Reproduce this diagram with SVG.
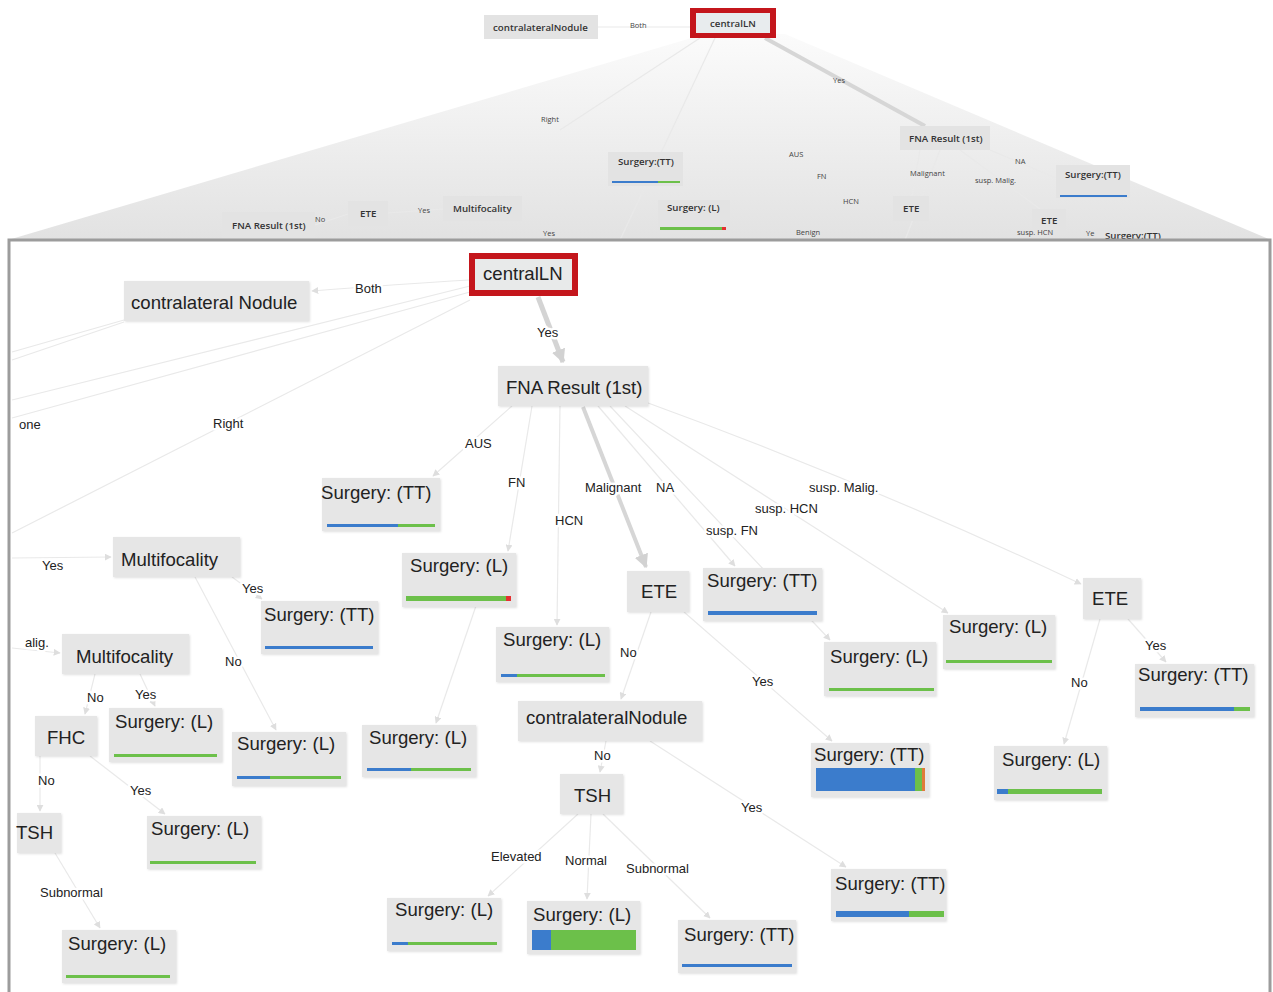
<svg xmlns="http://www.w3.org/2000/svg" width="1273" height="992" viewBox="0 0 1273 992">
<defs>
<linearGradient id="shade" x1="0" y1="0" x2="0" y2="1">
<stop offset="0" stop-color="#fbfbfb"/>
<stop offset="1" stop-color="#e2e2e2"/>
</linearGradient>
<marker id="arr" viewBox="0 0 10 10" refX="9" refY="5" markerWidth="7" markerHeight="7" orient="auto-start-reverse" markerUnits="userSpaceOnUse">
<path d="M0,0 L10,5 L0,10 z" fill="#dedede"/>
</marker>
<marker id="arrB" viewBox="0 0 10 10" refX="9" refY="5" markerWidth="14" markerHeight="14" orient="auto" markerUnits="userSpaceOnUse">
<path d="M0,0 L10,5 L0,10 z" fill="#d2d2d2"/>
</marker>
<filter id="sh" x="-5%" y="-5%" width="115%" height="120%">
<feDropShadow dx="1" dy="1" stdDeviation="1" flood-color="#000" flood-opacity="0.12"/>
</filter>
</defs>
<style>
.n rect.b{fill:#e6e6e6;filter:url(#sh)}
.n text{font-family:"Liberation Sans",Arial,sans-serif;font-size:18.6px;fill:#222}
.t rect.b{fill:#e3e3e3}
.t text{font-family:"Open Sans","DejaVu Sans",sans-serif;font-size:9.7px;font-weight:600;fill:#333}
.lbl{font-family:"Liberation Sans",Arial,sans-serif;font-size:13px;fill:#222;paint-order:stroke;stroke:#fff;stroke-width:5px;stroke-linejoin:round}
.tl{font-family:"Open Sans","DejaVu Sans",sans-serif;font-size:7.5px;fill:#444}
.e line,.e path{stroke:#e9e9e9;stroke-width:1.2;fill:none}
.e .thick{stroke:#d4d4d4;stroke-width:5}
.e .mid{stroke:#d6d6d6;stroke-width:4}
.blue{fill:#3b7ccc}.green{fill:#6cc04a}.red{fill:#e53030}.orange{fill:#e07b39}
</style>

<!-- ===== Overview thumbnail ===== -->
<g id="overview">
<polygon points="705,34 785,34 1271,240 8,240" fill="url(#shade)"/>
<g class="e">
<line x1="598" y1="27" x2="690" y2="27" stroke="#ddd"/>
<line class="mid" x1="765" y1="38" x2="925" y2="126" stroke="#d0d0d0"/>
<line x1="715" y1="38" x2="620" y2="240"/>
<line x1="700" y1="38" x2="560" y2="130"/>
<line x1="940" y1="150" x2="905" y2="240"/>
<line x1="920" y1="150" x2="912" y2="196" stroke="#ccc" stroke-width="2"/>
<line x1="960" y1="150" x2="1040" y2="209"/>
<line x1="990" y1="150" x2="1056" y2="178"/>
<line x1="315" y1="225" x2="348" y2="214"/>
<line x1="388" y1="213" x2="443" y2="209"/>
</g>
<g class="t" id="ov-contra"><rect class="b" x="484" y="15" width="114" height="24"/><text x="493" y="31">contralateralNodule</text></g>
<text class="tl" x="630" y="28">Both</text>
<g class="t" id="ov-central"><rect x="690" y="8" width="86" height="30" fill="#c4161c"/><rect x="696" y="13" width="74" height="20" fill="#e8ecee"/><text x="710" y="27">centralLN</text></g>
<text class="tl" x="833" y="83">Yes</text>
<text class="tl" x="541" y="122">Right</text>
<g class="t" id="ov-stt1"><rect class="b" x="608" y="152" width="75" height="34"/><text x="618" y="165">Surgery:(TT)</text><rect x="612" y="181" width="46" height="2" class="blue"/><rect x="658" y="181" width="22" height="2" class="green"/></g>
<g class="t" id="ov-sl1"><rect class="b" x="658" y="200" width="72" height="33"/><text x="667" y="211">Surgery: (L)</text><rect x="660" y="227" width="62" height="3" class="green"/><rect x="722" y="227" width="4" height="3" class="red"/></g>
<text class="tl" x="789" y="157">AUS</text>
<text class="tl" x="817" y="179">FN</text>
<text class="tl" x="843" y="204">HCN</text>
<text class="tl" x="796" y="235">Benign</text>
<g class="t" id="ov-fna"><rect class="b" x="900" y="126" width="90" height="24"/><text x="909" y="142">FNA Result (1st)</text></g>
<text class="tl" x="910" y="176">Malignant</text>
<text class="tl" x="1015" y="164">NA</text>
<text class="tl" x="975" y="183">susp. Malig.</text>
<g class="t" id="ov-stt2"><rect class="b" x="1056" y="165" width="74" height="33"/><text x="1065" y="178">Surgery:(TT)</text><rect x="1060" y="195" width="67" height="2" class="blue"/></g>
<g class="t" id="ov-ete1"><rect class="b" x="893" y="196" width="36" height="25"/><text x="903" y="212">ETE</text></g>
<g class="t" id="ov-ete2"><rect class="b" x="1032" y="209" width="34" height="26"/><text x="1041" y="224">ETE</text></g>
<text class="tl" x="1017" y="235">susp. HCN</text>
<text class="tl" x="1086" y="236">Ye</text>
<g class="t" id="ov-stt3"><rect class="b" x="1097" y="228" width="73" height="12"/><text x="1105" y="239">Surgery:(TT)</text></g>
<g class="t" id="ov-fna2"><rect class="b" x="222" y="212" width="93" height="28"/><text x="232" y="229">FNA Result (1st)</text></g>
<text class="tl" x="315" y="222">No</text>
<g class="t" id="ov-ete3"><rect class="b" x="348" y="201" width="40" height="25"/><text x="360" y="217">ETE</text></g>
<text class="tl" x="418" y="213">Yes</text>
<g class="t" id="ov-multi"><rect class="b" x="443" y="196" width="79" height="25"/><text x="453" y="212">Multifocality</text></g>
<text class="tl" x="543" y="236">Yes</text>
</g>

<!-- ===== Main panel ===== -->
<rect x="9" y="240" width="1261" height="760" fill="#fff" stroke="#9c9c9c" stroke-width="3"/>

<g id="connectors" class="e">
<path d="M469,280 Q400,284 312,291" marker-end="url(#arr)"/>
<line x1="470" y1="286" x2="12" y2="400"/>
<line x1="470" y1="292" x2="12" y2="418"/>
<line x1="470" y1="300" x2="12" y2="533"/>
<line x1="124" y1="320" x2="12" y2="352"/>
<line x1="124" y1="322" x2="12" y2="360"/>
<line class="thick" x1="538" y1="297" x2="563" y2="362" marker-end="url(#arrB)"/>
<line x1="512" y1="406" x2="433" y2="476" marker-end="url(#arr)"/>
<line x1="532" y1="406" x2="508" y2="551" marker-end="url(#arr)"/>
<line x1="560" y1="406" x2="557" y2="625" marker-end="url(#arr)"/>
<line class="mid" x1="583" y1="407" x2="646" y2="567" marker-end="url(#arrB)"/>
<line x1="598" y1="406" x2="735" y2="566" marker-end="url(#arr)"/>
<line x1="610" y1="406" x2="830" y2="640" marker-end="url(#arr)"/>
<line x1="625" y1="406" x2="948" y2="613" marker-end="url(#arr)"/>
<path d="M640,400 Q860,480 1081,584" marker-end="url(#arr)"/>
<line x1="478" y1="600" x2="436" y2="723" marker-end="url(#arr)"/>
<line x1="651" y1="612" x2="621" y2="699" marker-end="url(#arr)"/>
<line x1="684" y1="612" x2="832" y2="741" marker-end="url(#arr)"/>
<line x1="606" y1="741" x2="600" y2="772" marker-end="url(#arr)"/>
<line x1="650" y1="741" x2="846" y2="867" marker-end="url(#arr)"/>
<line x1="578" y1="814" x2="488" y2="896" marker-end="url(#arr)"/>
<line x1="591" y1="814" x2="587" y2="899" marker-end="url(#arr)"/>
<line x1="603" y1="814" x2="710" y2="918" marker-end="url(#arr)"/>
<line x1="1128" y1="619" x2="1166" y2="662" marker-end="url(#arr)"/>
<line x1="1100" y1="619" x2="1064" y2="744" marker-end="url(#arr)"/>
<line x1="12" y1="558" x2="111" y2="557" marker-end="url(#arr)"/>
<line x1="232" y1="577" x2="262" y2="599" marker-end="url(#arr)"/>
<line x1="195" y1="577" x2="276" y2="730" marker-end="url(#arr)"/>
<line x1="12" y1="648" x2="60" y2="653" marker-end="url(#arr)"/>
<line x1="95" y1="674" x2="85" y2="714" marker-end="url(#arr)"/>
<line x1="140" y1="674" x2="155" y2="706" marker-end="url(#arr)"/>
<line x1="40" y1="756" x2="40" y2="811" marker-end="url(#arr)"/>
<line x1="90" y1="756" x2="165" y2="814" marker-end="url(#arr)"/>
<line x1="55" y1="853" x2="100" y2="928" marker-end="url(#arr)"/>
</g>

<g id="centralLN" class="n"><rect x="469" y="253" width="109" height="43" fill="#c4161c"/><rect x="475" y="259" width="97" height="31" fill="#e8eaea"/><text x="483" y="280">centralLN</text></g>
<g id="contralateral-nodule" class="n"><rect class="b" x="124" y="281" width="185" height="40"/><text x="131" y="309">contralateral Nodule</text></g>
<g id="fna" class="n"><rect class="b" x="498" y="366" width="150" height="40"/><text x="506" y="394">FNA Result (1st)</text></g>
<g id="s-tt-1" class="n"><rect class="b" x="322" y="478" width="118" height="53"/><text x="321" y="499">Surgery: (TT)</text><rect x="327" y="524" width="71" height="3" class="blue"/><rect x="398" y="524" width="37" height="3" class="green"/></g>
<g id="s-l-1" class="n"><rect class="b" x="402" y="553" width="114" height="54"/><text x="410" y="572">Surgery: (L)</text><rect x="406" y="596" width="100" height="5" class="green"/><rect x="506" y="596" width="5" height="5" class="red"/></g>
<g id="multi-1" class="n"><rect class="b" x="113" y="537" width="127" height="40"/><text x="121" y="566">Multifocality</text></g>
<g id="s-tt-2" class="n"><rect class="b" x="261" y="601" width="117" height="53"/><text x="264" y="621">Surgery: (TT)</text><rect x="265" y="646" width="108" height="3" class="blue"/></g>
<g id="multi-2" class="n"><rect class="b" x="62" y="634" width="127" height="40"/><text x="76" y="663">Multifocality</text></g>
<g id="ete-1" class="n"><rect class="b" x="627" y="571" width="62" height="41"/><text x="641" y="598">ETE</text></g>
<g id="s-tt-3" class="n"><rect class="b" x="703" y="568" width="119" height="53"/><text x="707" y="587">Surgery: (TT)</text><rect x="708" y="611" width="109" height="4" class="blue"/></g>
<g id="s-l-2" class="n"><rect class="b" x="496" y="627" width="113" height="55"/><text x="503" y="646">Surgery: (L)</text><rect x="501" y="674" width="16" height="3" class="blue"/><rect x="517" y="674" width="88" height="3" class="green"/></g>
<g id="fhc" class="n"><rect class="b" x="35" y="716" width="62" height="40"/><text x="47" y="744">FHC</text></g>
<g id="s-l-3" class="n"><rect class="b" x="109" y="708" width="113" height="54"/><text x="115" y="728">Surgery: (L)</text><rect x="114" y="754" width="103" height="3" class="green"/></g>
<g id="s-l-4" class="n"><rect class="b" x="232" y="732" width="114" height="54"/><text x="237" y="750">Surgery: (L)</text><rect x="237" y="776" width="33" height="3" class="blue"/><rect x="270" y="776" width="71" height="3" class="green"/></g>
<g id="s-l-5" class="n"><rect class="b" x="362" y="725" width="114" height="52"/><text x="369" y="744">Surgery: (L)</text><rect x="367" y="768" width="44" height="3" class="blue"/><rect x="411" y="768" width="60" height="3" class="green"/></g>
<g id="contralateralNodule" class="n"><rect class="b" x="518" y="701" width="184" height="40"/><text x="526" y="724">contralateralNodule</text></g>
<g id="s-tt-4" class="n"><rect class="b" x="811" y="743" width="118" height="54"/><text x="814" y="761">Surgery: (TT)</text><rect x="816" y="768" width="99" height="23" class="blue"/><rect x="915" y="768" width="7" height="23" class="green"/><rect x="922" y="768" width="3" height="23" class="orange"/></g>
<g id="s-l-6" class="n"><rect class="b" x="824" y="642" width="112" height="54"/><text x="830" y="663">Surgery: (L)</text><rect x="829" y="688" width="105" height="3" class="green"/></g>
<g id="s-l-7" class="n"><rect class="b" x="943" y="615" width="112" height="54"/><text x="949" y="633">Surgery: (L)</text><rect x="946" y="660" width="106" height="3" class="green"/></g>
<g id="ete-2" class="n"><rect class="b" x="1083" y="578" width="58" height="41"/><text x="1092" y="605">ETE</text></g>
<g id="s-tt-5" class="n"><rect class="b" x="1135" y="664" width="119" height="53"/><text x="1138" y="681">Surgery: (TT)</text><rect x="1140" y="707" width="94" height="4" class="blue"/><rect x="1234" y="707" width="16" height="4" class="green"/></g>
<g id="s-l-8" class="n"><rect class="b" x="994" y="746" width="113" height="54"/><text x="1002" y="766">Surgery: (L)</text><rect x="997" y="789" width="11" height="5" class="blue"/><rect x="1008" y="789" width="94" height="5" class="green"/></g>
<g id="tsh-1" class="n"><rect class="b" x="560" y="774" width="63" height="40"/><text x="574" y="802">TSH</text></g>
<g id="tsh-2" class="n"><rect class="b" x="17" y="813" width="44" height="40"/><text x="16" y="839">TSH</text></g>
<g id="s-l-9" class="n"><rect class="b" x="147" y="816" width="114" height="53"/><text x="151" y="835">Surgery: (L)</text><rect x="150" y="861" width="106" height="3" class="green"/></g>
<g id="s-tt-6" class="n"><rect class="b" x="831" y="869" width="115" height="52"/><text x="835" y="890">Surgery: (TT)</text><rect x="836" y="911" width="73" height="6" class="blue"/><rect x="909" y="911" width="35" height="6" class="green"/></g>
<g id="s-l-10" class="n"><rect class="b" x="387" y="898" width="114" height="53"/><text x="395" y="916">Surgery: (L)</text><rect x="392" y="942" width="16" height="3" class="blue"/><rect x="408" y="942" width="89" height="3" class="green"/></g>
<g id="s-l-11" class="n"><rect class="b" x="527" y="901" width="113" height="53"/><text x="533" y="921">Surgery: (L)</text><rect x="532" y="930" width="19" height="20" class="blue"/><rect x="551" y="930" width="85" height="20" class="green"/></g>
<g id="s-tt-7" class="n"><rect class="b" x="678" y="920" width="118" height="53"/><text x="684" y="941">Surgery: (TT)</text><rect x="682" y="964" width="110" height="3" class="blue"/></g>
<g id="s-l-12" class="n"><rect class="b" x="62" y="930" width="114" height="53"/><text x="68" y="950">Surgery: (L)</text><rect x="66" y="975" width="104" height="3" class="green"/></g>

<g id="labels">
<text class="lbl" x="355" y="293">Both</text>
<text class="lbl" x="537" y="337">Yes</text>
<text class="lbl" x="19" y="429">one</text>
<text class="lbl" x="213" y="428">Right</text>
<text class="lbl" x="465" y="448">AUS</text>
<text class="lbl" x="508" y="487">FN</text>
<text class="lbl" x="585" y="492">Malignant</text>
<text class="lbl" x="656" y="492">NA</text>
<text class="lbl" x="809" y="492">susp. Malig.</text>
<text class="lbl" x="755" y="513">susp. HCN</text>
<text class="lbl" x="555" y="525">HCN</text>
<text class="lbl" x="706" y="535">susp. FN</text>
<text class="lbl" x="42" y="570">Yes</text>
<text class="lbl" x="242" y="593">Yes</text>
<text class="lbl" x="25" y="647">alig.</text>
<text class="lbl" x="225" y="666">No</text>
<text class="lbl" x="620" y="657">No</text>
<text class="lbl" x="752" y="686">Yes</text>
<text class="lbl" x="1145" y="650">Yes</text>
<text class="lbl" x="1071" y="687">No</text>
<text class="lbl" x="87" y="702">No</text>
<text class="lbl" x="135" y="699">Yes</text>
<text class="lbl" x="594" y="760">No</text>
<text class="lbl" x="38" y="785">No</text>
<text class="lbl" x="130" y="795">Yes</text>
<text class="lbl" x="741" y="812">Yes</text>
<text class="lbl" x="491" y="861">Elevated</text>
<text class="lbl" x="565" y="865">Normal</text>
<text class="lbl" x="626" y="873">Subnormal</text>
<text class="lbl" x="40" y="897">Subnormal</text>
</g>
</svg>
